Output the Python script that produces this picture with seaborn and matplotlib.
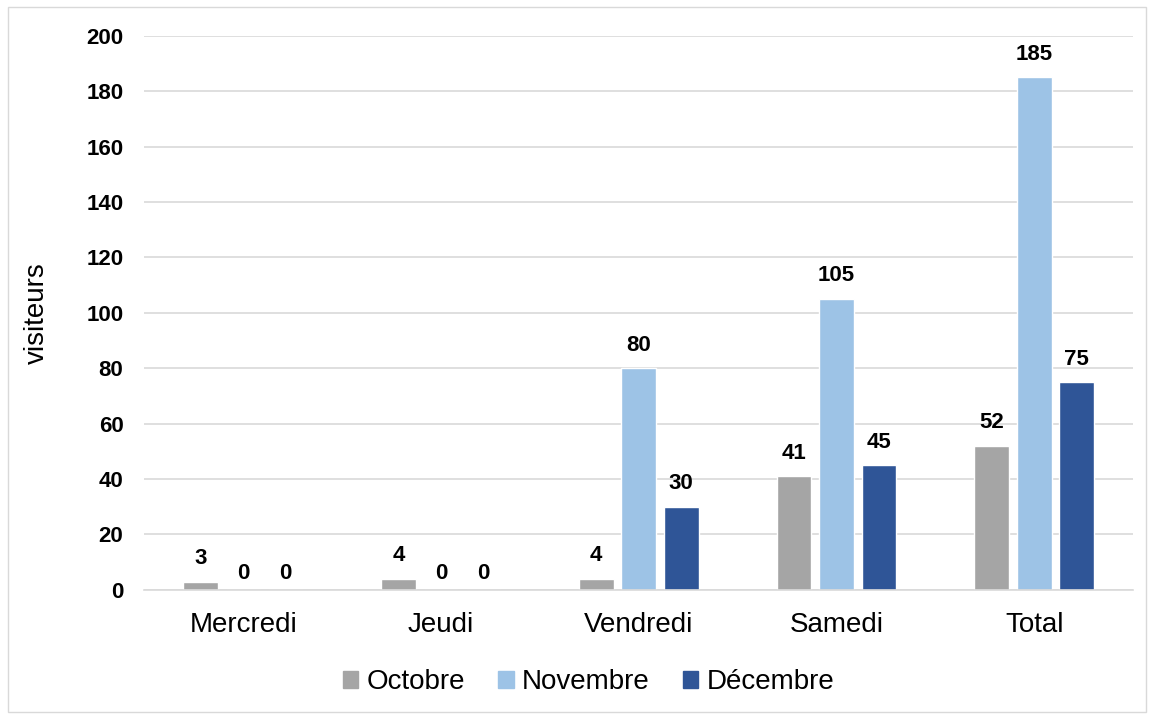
import pandas as pd
import seaborn as sns
import matplotlib.pyplot as plt
from matplotlib.patches import Rectangle

# Donnees du graphique
jours = ['Mercredi', 'Jeudi', 'Vendredi', 'Samedi', 'Total']
octobre = [3, 4, 4, 41, 52]
novembre = [0, 0, 80, 105, 185]
decembre = [0, 0, 30, 45, 75]
mois = ['Octobre', 'Novembre', 'Décembre']
couleurs = ['#A5A5A5', '#9DC3E6', '#2F5597']

df = pd.DataFrame({
    'jour': jours * 3,
    'mois': [mois[0]] * 5 + [mois[1]] * 5 + [mois[2]] * 5,
    'visiteurs': octobre + novembre + decembre,
})

sns.set_style('white')
plt.rcParams['font.family'] = ['Liberation Sans', 'DejaVu Sans']
plt.rcParams['text.color'] = 'black'

fig = plt.figure(figsize=(11.54, 7.15), dpi=100)
ax = fig.add_axes([0.125, 0.175, 0.857, 0.775])
sns.barplot(data=df, x='jour', y='visiteurs', hue='mois', palette=couleurs,
            saturation=1, width=0.645, gap=0.18, ax=ax, legend=False)

# Etiquettes au-dessus des barres (les zeros un peu plus bas, comme dans Excel)
for cont in ax.containers:
    vals = [int(b.get_height()) for b in cont]
    ax.bar_label(cont, labels=[str(v) if v != 0 else '' for v in vals], padding=9,
                 fontsize=16, fontweight='bold', color='black')
    ax.bar_label(cont, labels=['0' if v == 0 else '' for v in vals], padding=4,
                 fontsize=16, fontweight='bold', color='black')

ax.set_ylim(0, 200)
ax.set_xlim(-0.5, 4.5)
ax.set_yticks(range(0, 201, 20))
ax.yaxis.grid(True, color='#D9D9D9', linewidth=1.2)
ax.set_axisbelow(True)
for s in ['top', 'right', 'left']:
    ax.spines[s].set_visible(False)
ax.spines['bottom'].set_color('#D9D9D9')
ax.spines['bottom'].set_linewidth(1.2)
ax.tick_params(axis='y', length=0, labelsize=16, pad=15, labelcolor='black')
ax.tick_params(axis='x', length=0, labelsize=20, pad=16, labelcolor='black')
for lbl in ax.get_yticklabels():
    lbl.set_fontweight('bold')
ax.set_xlabel('')
ax.set_ylabel('visiteurs', fontsize=20, color='black', ha='center')
ax.yaxis.set_label_coords(-0.095, 0.5)

# Legende en bas
poignees = [Rectangle((0, 0), 1, 1, color=c) for c in couleurs]
fig.legend(poignees, mois, loc='center', bbox_to_anchor=(0.51, 0.046), ncol=3,
           frameon=False, fontsize=20, handlelength=0.55, handleheight=0.55,
           handletextpad=0.3, columnspacing=1.2, labelcolor='black')

# Cadre autour de la figure
fig.patches.append(Rectangle((0.007, 0.004), 0.986, 0.986, transform=fig.transFigure,
                             fill=False, edgecolor='#D9D9D9', linewidth=1))

plt.savefig('out.png', dpi=100)
